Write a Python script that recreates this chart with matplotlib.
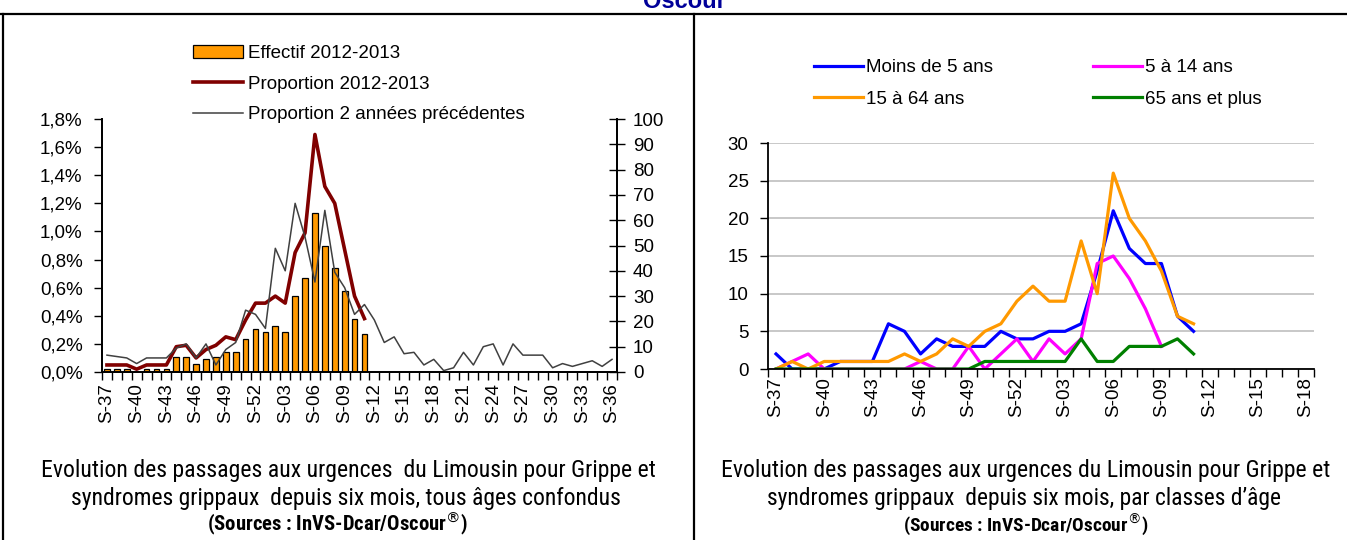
import numpy as np
import matplotlib
matplotlib.use('Agg')
import matplotlib.pyplot as plt
from matplotlib import font_manager
from matplotlib.lines import Line2D
from matplotlib.ticker import FuncFormatter, MultipleLocator

plt.rcParams['font.family'] = ['Liberation Sans', 'DejaVu Sans']

W, H = 1347, 540

# weeks S-37 .. S-36 (left) and S-37 .. S-18 (right)
weeks_left = ['S-%02d' % w for w in list(range(37, 53)) + list(range(1, 37))]
weeks_right = ['S-%02d' % w for w in list(range(37, 53)) + list(range(1, 19))]

# left chart: passages 2012-2013 (right axis) and proportions in % (left axis)
effectif = [1, 1, 1, 0, 1, 1, 1, 6, 6, 3, 5, 6, 8, 8, 13, 17, 16, 18, 16,
            30, 37, 63, 50, 41, 32, 21, 15]
prop_2012 = [0.05, 0.05, 0.05, 0.02, 0.05, 0.05, 0.05, 0.18, 0.19, 0.10,
             0.16, 0.19, 0.25, 0.23, 0.37, 0.49, 0.49, 0.54, 0.49, 0.85,
             0.99, 1.69, 1.32, 1.20, 0.87, 0.54, 0.38]
prop_prev = [0.12, 0.11, 0.10, 0.06, 0.10, 0.10, 0.10, 0.17, 0.20, 0.10,
             0.20, 0.05, 0.16, 0.21, 0.44, 0.41, 0.31, 0.88, 0.72, 1.20,
             0.96, 0.64, 1.15, 0.71, 0.60, 0.41, 0.48, 0.37, 0.21, 0.25,
             0.13, 0.14, 0.05, 0.09, 0.01, 0.03, 0.14, 0.05, 0.18, 0.20,
             0.05, 0.20, 0.12, 0.12, 0.12, 0.03, 0.06, 0.04, 0.06, 0.08,
             0.04, 0.09]

# right chart: passages by age group
moins5 = [2, 0, 0, 0, 1, 1, 1, 6, 5, 2, 4, 3, 3, 3, 5, 4, 4, 5, 5, 6, 13, 21,
          16, 14, 14, 7, 5]
de5a14 = [0, 1, 2, 0, 0, 0, 0, 0, 0, 1, 0, 0, 3, 0, 2, 4, 1, 4, 2, 4, 14, 15,
          12, 8, 3]
de15a64 = [0, 1, 0, 1, 1, 1, 1, 1, 2, 1, 2, 4, 3, 5, 6, 9, 11, 9, 9, 17, 10,
           26, 20, 17, 13, 7, 6]
plus65 = [0, 0, 0, 0, 0, 0, 0, 0, 0, 0, 0, 0, 0, 1, 1, 1, 1, 1, 1, 4, 1, 1,
          3, 3, 3, 4, 2]

# pick a narrow font for the captions if there is one
installed = {f.name for f in font_manager.fontManager.ttflist}
narrow = 'Liberation Sans'
for name in ['Liberation Sans Narrow', 'Roboto Condensed', 'Open Sans Condensed',
             'Noto Sans Condensed', 'DejaVu Sans Condensed']:
    if name in installed:
        narrow = name
        break

FS = 13.5

fig = plt.figure(figsize=(W / 100, H / 100), dpi=100)
renderer = fig.canvas.get_renderer()


def fx(px):
    return px / W


def fy(py):
    return 1 - py / H


# frame lines
for xs, ys in [((0, W), (14, 14)), ((3, 3), (14, H)), ((694, 694), (14, H))]:
    fig.add_artist(Line2D([fx(x) for x in xs], [fy(y) for y in ys],
                          transform=fig.transFigure, color='black', lw=1.6))
# banner title, cut by the top edge as in the source page
fig.text(fx(684), fy(2), 'Oscour', color='#000099', fontsize=17,
         fontweight='bold', ha='center', va='center')


def setup_xaxis(ax, labels, step=3):
    n = len(labels)
    ax.set_xlim(-0.5, n - 0.5)
    ax.set_xticks(np.arange(n + 1) - 0.5)
    ax.set_xticklabels([])
    ax.set_xticks(np.arange(0, n, step), minor=True)
    ax.set_xticklabels(labels[::step], minor=True, rotation=90, fontsize=FS)
    ax.tick_params(axis='x', which='major', direction='out', length=6, width=1)
    ax.tick_params(axis='x', which='minor', length=0, pad=8)


# ---------- left chart ----------
axL = fig.add_axes([fx(102), fy(372), fx(617) - fx(102), fy(119) - fy(372)])
axR = axL.twinx()
xl = np.arange(len(weeks_left))

bars = axR.bar(xl[:len(effectif)], effectif, width=0.58, color='#FF9900',
               edgecolor='black', linewidth=0.9, label='Effectif 2012-2013')
axR.set_ylim(0, 100)
axR.yaxis.set_major_locator(MultipleLocator(10))
axR.tick_params(axis='y', direction='inout', length=11, width=1, labelsize=FS, pad=6)

l1, = axL.plot(xl[:len(prop_2012)], prop_2012, color='#800000', lw=2.6,
               label='Proportion 2012-2013')
l2, = axL.plot(xl, prop_prev, color='#404040', lw=1.1,
               label='Proportion 2 années précédentes')
axL.set_ylim(0, 1.8)
axL.yaxis.set_major_locator(MultipleLocator(0.2))
axL.yaxis.set_major_formatter(FuncFormatter(lambda v, p: ('%.1f%%' % v).replace('.', ',')))
axL.tick_params(axis='y', direction='out', length=6, width=1, labelsize=FS, pad=8)
setup_xaxis(axL, weeks_left)
axL.set_zorder(axR.get_zorder() + 1)
axL.patch.set_visible(False)
for ax in (axL, axR):
    ax.spines['top'].set_visible(False)
    for s in ('left', 'right', 'bottom'):
        ax.spines[s].set_linewidth(1.3)

fig.legend(handles=[bars, l1, l2], loc='upper left',
           bbox_to_anchor=(fx(193), fy(45)), frameon=False, fontsize=FS,
           borderpad=0, borderaxespad=0, handlelength=2.65, handletextpad=0.3,
           labelspacing=0.72)

# ---------- right chart ----------
ax2 = fig.add_axes([fx(768), fy(369), fx(1314) - fx(768), fy(143) - fy(369)])
xr = np.arange(len(weeks_right))
series = [(moins5, '#0000FF', 'Moins de 5 ans'),
          (de15a64, '#FF9900', '15 à 64 ans'),
          (de5a14, '#FF00FF', '5 à 14 ans'),
          (plus65, '#008000', '65 ans et plus')]
handles = {}
for vals, col, lab in [series[0], series[2], series[1], series[3]]:
    h, = ax2.plot(xr[:len(vals)], vals, color=col, lw=2.3, label=lab)
    handles[lab] = h
ax2.set_ylim(0, 30)
ax2.yaxis.set_major_locator(MultipleLocator(5))
ax2.yaxis.grid(True, color='#BFBFBF', lw=1.2)
ax2.set_axisbelow(True)
ax2.tick_params(axis='y', direction='out', length=6, width=1, labelsize=FS, pad=8)
setup_xaxis(ax2, weeks_right)
ax2.tick_params(axis='x', which='minor', pad=6)
for s in ('top', 'right'):
    ax2.spines[s].set_visible(False)
for s in ('left', 'bottom'):
    ax2.spines[s].set_linewidth(1.3)

fig.legend(handles=[handles[s[2]] for s in series], ncol=2, loc='upper left',
           bbox_to_anchor=(fx(814), fy(59)), frameon=False, fontsize=FS,
           borderpad=0, borderaxespad=0, handlelength=2.6, handletextpad=0.2,
           labelspacing=0.76, columnspacing=5.3)


# ---------- captions ----------
def caption(x, y, s, width, **kw):
    t = fig.text(fx(x), fy(y), s, ha='center', va='center', family=narrow,
                 fontsize=16, **kw)
    w = t.get_window_extent(renderer=renderer).width
    t.set_fontsize(t.get_fontsize() * width / w)
    return t


caption(348, 470, 'Evolution des passages aux urgences  du Limousin pour Grippe et', 617)
caption(346, 499, 'syndromes grippaux  depuis six mois, tous âges confondus', 553)
caption(338, 524, '(Sources : InVS-Dcar/Oscour$^{®}$)', 262, fontweight='bold')
caption(1026, 470, 'Evolution des passages aux urgences du Limousin pour Grippe et', 613)
caption(1024, 499, 'syndromes grippaux  depuis six mois, par classes d’âge', 517)
caption(1026, 524, '(Sources : InVS-Dcar/Oscour$^{®}$)', 245, fontweight='bold')

fig.savefig('out.png', dpi=100)
